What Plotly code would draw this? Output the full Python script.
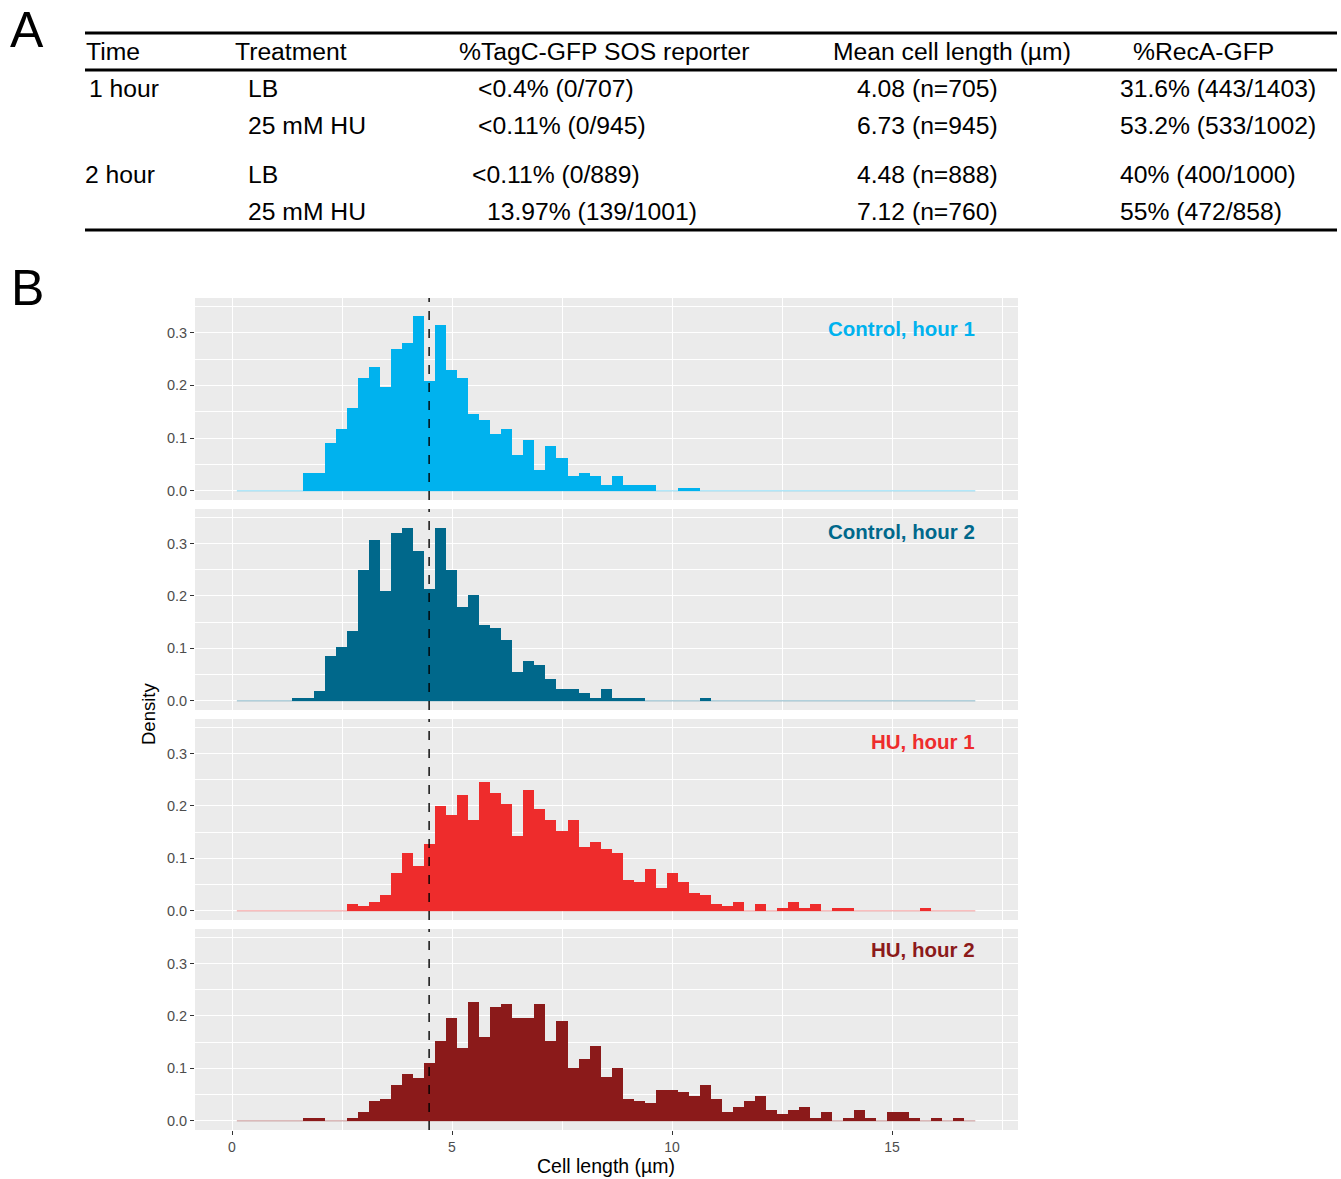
import plotly.graph_objects as go

W, H = 1341, 1179

# ---------------- data ----------------
bin_start = 0.11
bin_width = 0.2505
n_bins = 67
mean_line = 4.48

control_h1 = [0, 0, 0, 0, 0, 0, 0.034, 0.034, 0.091, 0.117, 0.157, 0.214, 0.235, 0.197, 0.269, 0.280,
              0.332, 0.208, 0.315, 0.229, 0.214, 0.146, 0.134, 0.108, 0.117, 0.068, 0.096, 0.039, 0.085,
              0.062, 0.028, 0.034, 0.028, 0.011, 0.028, 0.011, 0.011, 0.011, 0, 0, 0.006, 0.006,
              0, 0, 0, 0, 0, 0, 0, 0, 0, 0, 0, 0, 0, 0, 0, 0, 0, 0, 0, 0, 0, 0, 0, 0, 0]
control_h2 = [0, 0, 0, 0, 0, 0.005, 0.005, 0.018, 0.085, 0.102, 0.134, 0.250, 0.307, 0.210, 0.320, 0.330,
              0.286, 0.214, 0.330, 0.250, 0.178, 0.201, 0.144, 0.138, 0.115, 0.054, 0.075, 0.068, 0.041,
              0.022, 0.022, 0.015, 0.005, 0.022, 0.005, 0.005, 0.005, 0, 0, 0, 0, 0, 0.005,
              0, 0, 0, 0, 0, 0, 0, 0, 0, 0, 0, 0, 0, 0, 0, 0, 0, 0, 0, 0, 0, 0, 0]
hu_h1 = [0, 0, 0, 0, 0, 0, 0, 0, 0, 0, 0.013, 0.009, 0.017, 0.030, 0.072, 0.111, 0.086, 0.128, 0.199,
         0.182, 0.220, 0.174, 0.245, 0.224, 0.203, 0.143, 0.230, 0.195, 0.174, 0.153, 0.174, 0.122,
         0.132, 0.118, 0.111, 0.059, 0.055, 0.080, 0.043, 0.072, 0.055, 0.034, 0.030, 0.013, 0.009,
         0.017, 0, 0.013, 0, 0.005, 0.017, 0.005, 0.013, 0, 0.005, 0.005, 0, 0, 0, 0, 0, 0, 0.005,
         0, 0, 0, 0]
hu_h2 = [0, 0, 0, 0, 0, 0, 0.006, 0.006, 0, 0, 0.006, 0.017, 0.038, 0.042, 0.069, 0.090, 0.081, 0.111,
         0.153, 0.196, 0.138, 0.226, 0.159, 0.217, 0.222, 0.196, 0.196, 0.222, 0.153, 0.190, 0.100,
         0.117, 0.142, 0.084, 0.100, 0.042, 0.038, 0.033, 0.059, 0.059, 0.054, 0.048, 0.069, 0.042,
         0.017, 0.027, 0.038, 0.048, 0.021, 0.012, 0.021, 0.027, 0.006, 0.017, 0, 0.006, 0.021, 0.006,
         0, 0.017, 0.017, 0.006, 0, 0.006, 0, 0.006, 0]

panel_labels = ["Control, hour 1", "Control, hour 2", "HU, hour 1", "HU, hour 2"]
panel_colors = ["#00B2EE", "#00688B", "#EE2C2C", "#8B1A1A"]
panel_values = [control_h1, control_h2, hu_h1, hu_h2]

x_ticks = [0, 5, 10, 15]
y_ticks = [0.0, 0.1, 0.2, 0.3]

table_header = ["Time", "Treatment", "%TagC-GFP SOS reporter", "Mean cell length (µm)", "%RecA-GFP"]
table_time = ["1 hour", "", "2 hour", ""]
table_treatment = ["LB", "25 mM HU", "LB", "25 mM HU"]
table_sos = ["<0.4% (0/707)", "<0.11% (0/945)", "<0.11% (0/889)", "13.97% (139/1001)"]
table_length = ["4.08 (n=705)", "6.73 (n=945)", "4.48 (n=888)", "7.12 (n=760)"]
table_reca = ["31.6% (443/1403)", "53.2% (533/1002)", "40% (400/1000)", "55% (472/858)"]

# ---------------- layout helpers ----------------
def px(x):
    return x / W

def py(y):
    return 1 - y / H

FONT = "Liberation Sans, Arial, Helvetica, sans-serif"

fig = go.Figure()

panel_px = [(298, 500), (509, 710), (719, 920), (929, 1130)]
x_left, x_right = 195, 1018
x_range = [(x_left - 232) / 44.0, (x_right - 232) / 44.0]
y_range = [-0.0177, 0.366]

centers = [bin_start + bin_width * (i + 0.5) for i in range(n_bins)]
x_end = bin_start + bin_width * n_bins

for i, (lab, col, vals) in enumerate(zip(panel_labels, panel_colors, panel_values)):
    sfx = "" if i == 0 else str(i + 1)
    fig.add_trace(go.Scatter(x=[bin_start, x_end], y=[0, 0], mode="lines",
                             line=dict(color=col, width=1.5), opacity=0.3,
                             xaxis="x" + sfx, yaxis="y" + sfx, showlegend=False, hoverinfo="skip"))
    fig.add_trace(go.Bar(x=centers, y=vals, width=bin_width, marker=dict(color=col, line=dict(width=0)),
                         xaxis="x" + sfx, yaxis="y" + sfx, showlegend=False))
    top, bot = panel_px[i]
    fig.layout["xaxis" + sfx] = dict(
        domain=[px(x_left), px(x_right)], range=x_range, anchor="y" + sfx,
        tickvals=x_ticks, showticklabels=(i == 3), ticks="outside" if i == 3 else "",
        ticklen=4, tickcolor="#333333", tickfont=dict(family=FONT, size=14, color="#4D4D4D"),
        showgrid=True, gridcolor="white", gridwidth=1.2, zeroline=False, showline=False,
        minor=dict(tickvals=[2.5, 7.5, 12.5, 17.5], showgrid=True, gridcolor="white", gridwidth=0.6, ticks=""),
    )
    fig.layout["yaxis" + sfx] = dict(
        domain=[py(bot), py(top)], range=y_range, anchor="x" + sfx,
        tickvals=y_ticks, ticktext=["0.0", "0.1", "0.2", "0.3"], ticks="outside", ticklen=4,
        tickcolor="#333333", tickfont=dict(family=FONT, size=14.5, color="#4D4D4D"),
        showgrid=True, gridcolor="white", gridwidth=1.2, zeroline=False, showline=False,
        minor=dict(tickvals=[0.05, 0.15, 0.25, 0.35], showgrid=True, gridcolor="white", gridwidth=0.6, ticks=""),
    )
    fig.add_shape(type="line", xref="x" + sfx, yref="y" + sfx + " domain", x0=mean_line, x1=mean_line,
                  y0=0, y1=1, line=dict(color="black", width=1.4, dash="dash"), layer="above")
    label_y = [328, 531, 741, 949][i]
    fig.add_annotation(x=px(977), y=py(label_y), xref="paper", yref="paper", text="<b>%s</b>" % lab,
                       showarrow=False, xanchor="right", yanchor="middle",
                       font=dict(family=FONT, size=20.5, color=col))

# axis titles
fig.add_annotation(x=px(606), y=py(1166), xref="paper", yref="paper", text="Cell length (µm)",
                   showarrow=False, xanchor="center", yanchor="middle",
                   font=dict(family=FONT, size=19.5, color="black"))
fig.add_annotation(x=px(148), y=py(714), xref="paper", yref="paper", text="Density", textangle=-90,
                   showarrow=False, xanchor="center", yanchor="middle",
                   font=dict(family=FONT, size=18.5, color="black"))

# panel letters
for letter, lx, ly in [("A", 27, 30), ("B", 27, 288)]:
    fig.add_annotation(x=px(lx), y=py(ly), xref="paper", yref="paper", text=letter, showarrow=False,
                       xanchor="center", yanchor="middle", font=dict(family=FONT, size=50, color="black"))

# table rules
for yy in [33, 70, 230]:
    fig.add_shape(type="line", xref="paper", yref="paper", x0=px(85), x1=px(1337), y0=py(yy), y1=py(yy),
                  line=dict(color="black", width=3))

TFS = 24.7
header_x = [84, 233, 457, 831, 1131]
for txt, hx in zip(table_header, header_x):
    fig.add_annotation(x=px(hx), y=py(51), xref="paper", yref="paper", text=txt, showarrow=False,
                       xanchor="left", yanchor="middle", font=dict(family=FONT, size=TFS, color="black"))

row_y = [89, 125, 175, 211]
time_x = [87, 87, 83, 83]
sos_x = [476, 476, 470, 485]
for r in range(4):
    cells = [(table_time[r], time_x[r]), (table_treatment[r], 246), (table_sos[r], sos_x[r]),
             (table_length[r], 855), (table_reca[r], 1118)]
    for txt, cx in cells:
        if not txt:
            continue
        fig.add_annotation(x=px(cx), y=py(row_y[r]), xref="paper", yref="paper", text=txt, showarrow=False,
                           xanchor="left", yanchor="middle", font=dict(family=FONT, size=TFS, color="black"))

fig.update_layout(width=W, height=H, autosize=False, margin=dict(l=0, r=0, t=0, b=0),
                  paper_bgcolor="white", plot_bgcolor="#EBEBEB", bargap=0, showlegend=False,
                  font=dict(family=FONT))

fig.write_html("out.html", config={"displayModeBar": False},
               post_script="document.body.style.margin='0';")
